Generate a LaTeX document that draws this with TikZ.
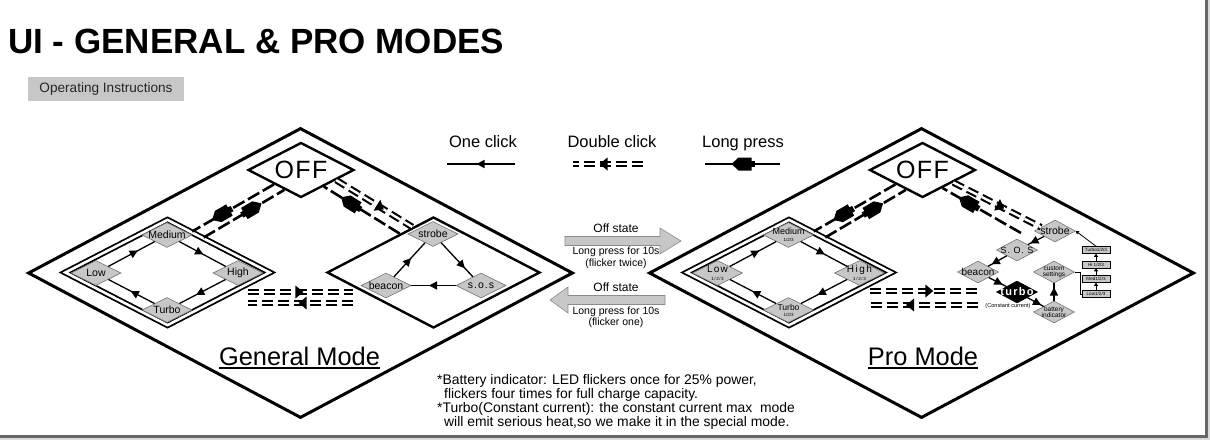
\documentclass[tikz,border=0pt]{standalone}
\usepackage{fontspec}
\setmainfont{Liberation Sans}
\usetikzlibrary{
  arrows.meta,
  positioning,
  calc,
  shapes.geometric,
  decorations.markings
}
\newcommand{\fsz}[1]{\fontsize{#1}{#1}\selectfont}
\newcommand{\wide}[1]{\addfontfeatures{LetterSpace=#1}}

\begin{document}
\begin{tikzpicture}[
      x=1pt, y=-1pt,
      every node/.style={font=\fsz{10.5}},
      bigdia/.style={diamond, draw, line width=3pt, minimum width=545pt,
                     minimum height=290pt, inner sep=0pt},
      offdia/.style={diamond, draw, line width=2.4pt, minimum width=106pt,
                     minimum height=55pt, aspect=2, inner sep=0pt,
                     font=\fsz{25}\wide{6}},
      grpdia/.style={diamond, draw, line width=2.4pt, minimum width=213pt,
                     minimum height=111pt, inner sep=0pt},
      grpdbl/.style={diamond, draw, line width=1.8pt, double, double distance=2.6pt,
                     minimum width=205pt, minimum height=106pt, inner sep=0pt},
      gdia/.style={diamond, draw=black!55, fill=black!22, line width=0.6pt,
                   minimum width=50pt, minimum height=25pt, inner sep=0pt},
      sdia/.style={gdia, minimum width=41pt, minimum height=22pt},
      dtext/.style={font=\fsz{10.5}, align=center, inner sep=0pt},
      ptext/.style={font=\fsz{9}, align=center, inner sep=0pt},
      keytext/.style={font=\fsz{16.5}, anchor=base, inner sep=0pt},
      lvlbox/.style={draw, fill=black!22, line width=0.5pt, minimum width=28pt,
                     minimum height=7pt, inner sep=0pt, font=\fsz{4.6}},
      oneclick/.style={line width=1.3pt, postaction={decorate},
          decoration={markings, mark=at position #1 with
            {\fill (4.5,0) -- (-3.5,4.2) -- (-3.5,-4.2) -- cycle;}}},
      oneclick/.default=0.5,
      dclick/.style={line width=2.1pt, double, double distance=2.4pt,
          dash pattern=on 11pt off 5pt, postaction={decorate},
          decoration={markings, mark=at position #1 with
            {\fill (5,0) -- (-3,6.5) -- (-3,-6.5) -- cycle;}}},
      dclick/.default=0.5,
      lpress/.style={line width=2.6pt, dash pattern=on 13pt off 4pt,
          postaction={decorate},
          decoration={markings, mark=at position #1 with
            {\fill (11,0) -- (4,6.5) -- (-9,6.5) -- (-9,-6.5) -- (4,-6.5) -- cycle;
             \fill (-8,3) rectangle (-12,-3);}}},
      lpress/.default=0.5,
      lvlarrow/.style={line width=0.8pt, -{Triangle[length=3pt, width=4pt]}},
      offarrow/.style={fill=black!22, draw=black!45, line width=0.6pt}
  ]
      \useasboundingbox (0,0) rectangle (1210,440);

      % Title and tab
      \node[anchor=base west, inner sep=0pt, font=\fsz{35}\bfseries] (title) at (8,53)
          {UI - GENERAL \& PRO MODES};
      \node[fill=black!22, minimum width=156pt, minimum height=24pt, inner sep=0pt,
            font=\fsz{13.6}, text=black!85] (instr) at (106,89) {Operating Instructions};

      % Legend
      \node[keytext] (kone)  at (483,147) {One click};
      \node[keytext] (kdbl)  at (612,147) {Double click};
      \node[keytext] (klong) at (743,147) {Long press};
      \coordinate (koneR) at (515,164);  \coordinate (koneL) at (447,164);
      \coordinate (kdblR) at (643,164);  \coordinate (kdblL) at (573,164);
      \coordinate (klongR) at (780,164); \coordinate (klongL) at (705,164);
      \draw[oneclick=0.5, line width=2.6pt] (koneR) -- (koneL);
      \draw[dclick=0.55] (kdblR) -- (kdblL);
      \draw[lpress=0.5, solid] (klongR) -- (klongL);

      % Frames
      \node[bigdia] (gen) at (300.5,273) {};
      \node[bigdia] (pro) at (921.5,273) {};
      \node[offdia] (offG) at (301,170) {OFF};
      \node[offdia] (offP) at (922.5,170) {OFF};
      \node[grpdbl] (modeG) at (167.5,272.5) {};
      \node[grpdia] (specG) at (433.5,272.5) {};
      \node[grpdbl] (modeP) at (789,272.5) {};

      % General mode states
      \node[gdia, label={[dtext]center:Medium}] (medG)  at (167,235) {};
      \node[gdia, label={[dtext]center:Low}]    (lowG)  at (96,273) {};
      \node[gdia, label={[dtext]center:High}]   (highG) at (238,273) {};
      \node[gdia, label={[dtext]center:Turbo}]  (turG)  at (167,310) {};
      \node[gdia, label={[dtext]center:strobe}] (strobeG) at (433,234) {};
      \node[gdia, label={[dtext]center:beacon}] (beaconG) at (386,285.5) {};
      \node[gdia, label={[dtext]center:{\wide{10}s.o.s}}] (sosG) at (481,285.5) {};

      \draw[oneclick=0.55] (lowG) -- (medG);
      \draw[oneclick=0.43] (medG) -- (highG);
      \draw[oneclick=0.55] (highG) -- (turG);
      \draw[oneclick=0.43] (turG) -- (lowG);
      \draw[oneclick=0.45] (beaconG) -- (strobeG);
      \draw[oneclick=0.65] (strobeG) -- (sosG);
      \draw[oneclick=0.5]  (sosG) -- (beaconG);

      \draw[lpress=0.64] (offG.208) -- (modeG.59);
      \draw[lpress=0.6]  (modeG.44) -- (offG.230);
      \draw[dclick=0.57] (offG.-16) -- (specG.115);
      \draw[lpress=0.65] (specG.131) -- (offG.-36);

      \coordinate (gdA) at (248,292); \coordinate (gdB) at (353,292);
      \coordinate (gdC) at (353,303); \coordinate (gdD) at (248,303);
      \draw[dclick=0.48] (gdA) -- (gdB);
      \draw[dclick=0.47] (gdC) -- (gdD);

      % Pro mode states
      \node[gdia, label={[ptext]center:{Medium\\[-2.5pt]\fsz{4.5}1/2/3}}] (medP) at (788.5,235) {};
      \node[gdia, label={[ptext, font=\fsz{10}\wide{12}]center:{Low\\[-2.5pt]\fsz{4.5}1/2/3}}] (lowP) at (717.5,273) {};
      \node[gdia, label={[ptext, font=\fsz{10}\wide{15}]center:{High\\[-2.5pt]\fsz{4.5}1/2/3}}] (highP) at (859.5,273) {};
      \node[gdia, label={[ptext, font=\fsz{8.5}]center:{Turbo\\[-2.5pt]\fsz{4.5}1/2/3}}] (turP) at (788.5,310) {};

      \draw[oneclick=0.55] (lowP) -- (medP);
      \draw[oneclick=0.43] (medP) -- (highP);
      \draw[oneclick=0.55] (highP) -- (turP);
      \draw[oneclick=0.43] (turP) -- (lowP);

      \node[sdia, label={[dtext]center:strobe}] (strobeP) at (1055,231) {};
      \node[sdia, label={[ptext]center:{\wide{10}S. O. S}}] (sosP) at (1017,250) {};
      \node[sdia, label={[dtext, font=\fsz{10}]center:beacon}] (beaconP) at (978,272) {};
      \node[sdia, fill=black, draw=black,
            label={[dtext, text=white, font=\fsz{11}\bfseries\wide{12}]center:turbo}] (turboP) at (1017,292) {};
      \node[sdia, label={[dtext, font=\fsz{6.5}]center:{custom\\settings}}] (custP) at (1054,272) {};
      \node[sdia, label={[dtext, font=\fsz{6.5}]center:{battery\\indicator}}] (batP) at (1054,312) {};
      \node[font=\fsz{5.6}, inner sep=0pt] (ccP) at (1008,306.5) {(Constant current)};

      \node[lvlbox] (tbP) at (1096,250)   {Turbo1/2/3};
      \node[lvlbox] (hbP) at (1096,264.5) {Hi 1/2/3};
      \node[lvlbox] (mbP) at (1096,279)   {Med1/2/3};
      \node[lvlbox] (lbP) at (1096,294)   {Low1/2/3};

      \draw[oneclick=0.6]  (strobeP) -- (sosP);
      \draw[oneclick=0.6]  (sosP) -- (beaconP);
      \draw[oneclick=0.55] (beaconP) -- (turboP);
      \draw[oneclick=0.6]  (turboP) -- (batP);
      \draw[oneclick=0.5]  (batP) -- (custP);
      \draw[line width=0.9pt] (custP.east) -- ++(6,0) |- (lbP.west);
      \draw[lvlarrow] (lbP) -- (mbP);
      \draw[lvlarrow] (mbP) -- (hbP);
      \draw[lvlarrow] (hbP) -- (tbP);
      \draw[lvlarrow] (tbP.north) -- (strobeP.east);

      \draw[lpress=0.64] (offP.208) -- (modeP.59);
      \draw[lpress=0.6]  (modeP.44) -- (offP.230);
      \draw[dclick=0.53] (offP.-22) -- (strobeP.165);
      \coordinate (pLong) at (1021,233);
      \draw[lpress=0.67] (pLong) -- (offP.-42);

      \coordinate (pdA) at (870,291); \coordinate (pdB) at (978,291);
      \coordinate (pdC) at (978,305); \coordinate (pdD) at (870,305);
      \draw[dclick=0.54] (pdA) -- (pdB);
      \draw[dclick=0.62] (pdC) -- (pdD);

      % Switching between the modes
      \draw[offarrow] (565,236.5) -- (660,236.5) -- (660,228) -- (681,241)
          -- (660,254) -- (660,245.5) -- (565,245.5) -- cycle;
      \draw[offarrow] (665,295.5) -- (568,295.5) -- (568,287) -- (550,300)
          -- (568,313) -- (568,304.5) -- (665,304.5) -- cycle;
      \node[font=\fsz{12}] (st1) at (616,228) {Off state};
      \node[font=\fontsize{10.5}{11.5}\selectfont, align=center] (lp1) at (616,258)
          {Long press for 10s\\(flicker twice)};
      \node[font=\fsz{12}] (st2) at (616,287) {Off state};
      \node[font=\fontsize{10.5}{11}\selectfont, align=center] (lp2) at (616,317)
          {Long press for 10s\\(flicker one)};

      % Mode names
      \node[font=\fsz{25.4}, anchor=base, inner sep=0pt] (genL) at (299.5,365) {General Mode};
      \draw[line width=1.8pt] ($(genL.base west)+(0,3)$) -- ($(genL.base east)+(0,3)$);
      \node[font=\fsz{25.4}, anchor=base, inner sep=0pt] (proL) at (923,365) {Pro Mode};
      \draw[line width=1.8pt] ($(proL.base west)+(0,3)$) -- ($(proL.base east)+(0,3)$);

      % Notes
      \node[anchor=north west, align=left, inner sep=0pt,
            font=\fontsize{13.9}{12.9}\selectfont] (note) at (437,374) {%
          *Battery indicator: LED flickers once for 25\% power,\\
          \hspace*{7pt}flickers four times for full charge capacity.\\
          *Turbo(Constant current): the constant current max\ \ mode\\
          \hspace*{7pt}will emit serious heat,so we make it in the special mode.};

      % Screenshot border
      \draw[black!60, line width=2.5pt] (1206.5,0) -- (1206.5,436.5) -- (0,436.5);
      \fill[black!15] (1208,0) rectangle (1210,440);
      \fill[black!15] (0,438) rectangle (1210,440);
\end{tikzpicture}
\end{document}
